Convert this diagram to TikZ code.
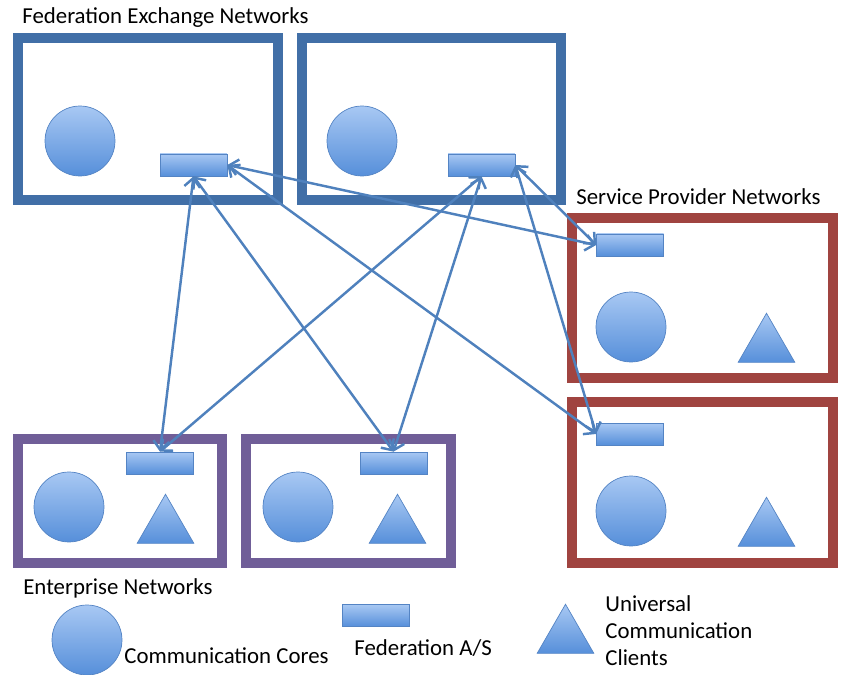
\documentclass[tikz,border=0pt]{standalone}
\usepackage{fontspec}
\setmainfont{Carlito}
\usepackage{tikz}
\usetikzlibrary{shapes.geometric, arrows.meta}

\definecolor{fedblue}{RGB}{65,111,167}
\definecolor{provred}{RGB}{160,68,64}
\definecolor{entpurple}{RGB}{112,94,152}
\definecolor{linkblue}{RGB}{79,129,189}
\definecolor{shapetop}{RGB}{168,200,243}
\definecolor{shapebot}{RGB}{86,143,218}
\definecolor{shapeedge}{RGB}{84,132,196}

\begin{document}
\begin{tikzpicture}[x=0.02cm, y=-0.02cm,
		>={Straight Barb[length=5pt,width=9pt]},
		every node/.style={font=\fontsize{13}{15.3}\selectfont},
		netbox/.style={line width=5.6pt},
		blob/.style={draw=shapeedge, line width=0.4pt, top color=shapetop, bottom color=shapebot},
		core/.style={blob, circle, minimum size=1.4cm, inner sep=0pt},
		fedas/.style={blob, rectangle, minimum width=1.34cm, minimum height=0.44cm, inner sep=0pt},
		client/.style={blob, regular polygon, regular polygon sides=3, minimum size=1.31cm, inner sep=0pt},
		caption/.style={anchor=base west, inner sep=0pt, align=left},
		link/.style={<->, linkblue, line width=1.4pt}]
		\useasboundingbox (0,0) rectangle (842,675);
		% Federation exchange networks
		\node[caption] (fedtitle) at (22,24) {Federation Exchange Networks};
		\draw[netbox, fedblue] (18,38) rectangle (278,200);
		\draw[netbox, fedblue] (302,38) rectangle (561,200);
		\node[core] (fc1) at (80,141) {};
		\node[fedas] (fa1) at (193.5,165) {};
		\node[core] (fc2) at (362,141) {};
		\node[fedas] (fa2) at (481.5,165) {};
		% Service provider networks
		\node[caption] (provtitle) at (576,205) {Service Provider Networks};
		\draw[netbox, provred] (572,218) rectangle (833,378);
		\draw[netbox, provred] (572,402) rectangle (833,563);
		\node[fedas] (sa1) at (630,245) {};
		\node[core] (sc1) at (631,327) {};
		\node[client] (st1) at (766.5,346) {};
		\node[fedas] (sa2) at (630,434) {};
		\node[core] (sc2) at (631,511) {};
		\node[client] (st2) at (766.5,530) {};
		% Enterprise networks
		\draw[netbox, entpurple] (18,439) rectangle (222,563);
		\draw[netbox, entpurple] (246,439) rectangle (451,563);
		\node[fedas] (ea1) at (160,463) {};
		\node[core] (ec1) at (69,507) {};
		\node[client] (et1) at (165.5,527) {};
		\node[fedas] (ea2) at (393.5,463) {};
		\node[core] (ec2) at (298,507) {};
		\node[client] (et2) at (397.5,527) {};
		\node[caption] (enttitle) at (23,594) {Enterprise Networks};
		% Federation links between the A/S boxes
		\foreach \a/\b in {fa1.south/ea1.north, fa1.south/ea2.north, fa1.east/sa1.west, fa1.east/sa2.west,
			fa2.south/ea1.north, fa2.south/ea2.north, fa2.east/sa1.west, fa2.east/sa2.west}
			\draw[link] (\a) -- (\b);
		% Legend
		\node[core] (keycore) at (87,640) {};
		\node[caption] (keycoretext) at (124,663) {Communication Cores};
		\node[fedas] (keyfedas) at (375.5,615.5) {};
		\node[caption] (keyfedastext) at (354,655) {Federation A/S};
		\node[client] (keyclient) at (565.5,637) {};
		\node[caption] (keyclienttext) at (605,665) {Universal\\Communication\\Clients};
	\end{tikzpicture}
\end{document}
